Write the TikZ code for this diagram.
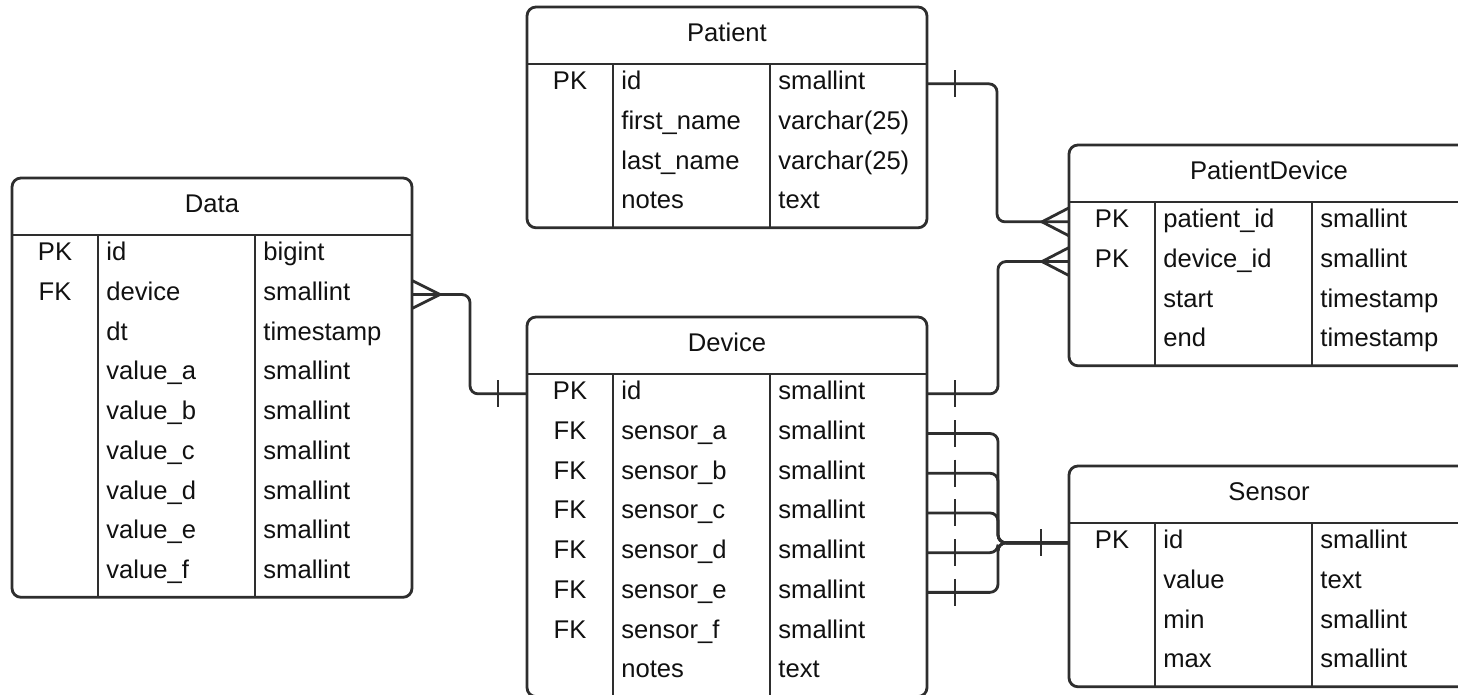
\documentclass[tikz,border=0pt]{standalone}
\usepackage{fontspec}
\setmainfont{Liberation Sans}
\usepackage{tikz}
\usetikzlibrary{calc,positioning}
\definecolor{erline}{HTML}{2E2E2E}
\definecolor{ertext}{HTML}{111111}
\tikzset{
  entity/.style={
    draw=erline,
    line width=1.4pt,
    rounded corners=4.5pt,
    fill=white,
    minimum width=200pt,
    anchor=north west,
    inner sep=0pt,
    outer sep=0pt
  },
  tableline/.style={
    draw=erline,
    line width=1.4pt
  },
  entitytitle/.style={
    anchor=base,
    inner sep=0pt,
    text=ertext,
    font=\fontsize{12.8}{15}\selectfont
  },
  keytext/.style={
    anchor=base,
    inner sep=0pt,
    text=ertext,
    font=\fontsize{12.8}{15}\selectfont
  },
  fieldtext/.style={
    anchor=base west,
    inner sep=0pt,
    text=ertext,
    font=\fontsize{12.8}{15}\selectfont
  },
  relline/.style={
    draw=erline,
    line width=1.4pt,
    rounded corners=4pt
  },
  relmark/.style={
    draw=erline,
    line width=1.4pt
  }
}
\newcommand{\ertable}[5]{%
  \node[entity, minimum height={(62+#4*39.7)*0.5pt}] (#1) at (#2) {};
  \node[entitytitle] (#1-title) at ($(#1.north)+(0,34.5)$) {#3};
  \coordinate (#1-head) at ($(#1.north west)+(0,57)$);
  \draw[tableline] (#1-head) -- ($(#1.north east)+(0,57)$);
  \draw[tableline] ($(#1-head)+(86,0)$) -- ($(#1.south west)+(86,0)$);
  \draw[tableline] ($(#1-head)+(243,0)$) -- ($(#1.south west)+(243,0)$);
  \foreach \key/\fld/\typ [count=\n] in {#5} {
    \coordinate (#1-w\n) at ($(#1-head)+(0,{(\n-0.5)*39.7})$);
    \coordinate (#1-e\n) at ($(#1-w\n)+(400,0)$);
    \node[keytext] (#1-k\n) at ($(#1-w\n)+(43,6)$) {\key};
    \node[fieldtext] (#1-f\n) at ($(#1-w\n)+(94,6)$) {\fld};
    \node[fieldtext] (#1-t\n) at ($(#1-w\n)+(251,6)$) {\typ};
  }%
}
\newcommand{\onemark}[2]{\draw[relmark] ($(#1)+(#2,-13.5)$) -- ($(#1)+(#2,13.5)$);}
\newcommand{\manymark}[2]{\draw[relmark] ($(#1)+(0,-14)$) -- ($(#1)+(#2,0)$) -- ($(#1)+(0,14)$);}

\begin{document}
\begin{tikzpicture}[x=0.5pt, y=-0.5pt]
    \path[use as bounding box, fill=white] (0,0) rectangle (1458,695);
    \ertable{data}{12,178}{Data}{9}{PK/id/bigint, FK/device/smallint, {}/dt/timestamp,
      {}/value\_a/smallint, {}/value\_b/smallint, {}/value\_c/smallint,
      {}/value\_d/smallint, {}/value\_e/smallint, {}/value\_f/smallint}
    \ertable{patient}{527,7}{Patient}{4}{PK/id/smallint, {}/first\_name/varchar(25),
      {}/last\_name/varchar(25), {}/notes/text}
    \ertable{device}{527,317}{Device}{8}{PK/id/smallint, FK/sensor\_a/smallint,
      FK/sensor\_b/smallint, FK/sensor\_c/smallint, FK/sensor\_d/smallint,
      FK/sensor\_e/smallint, FK/sensor\_f/smallint, {}/notes/text}
    \ertable{pdev}{1069,145}{PatientDevice}{4}{PK/patient\_id/smallint, PK/device\_id/smallint,
      {}/start/timestamp, {}/end/timestamp}
    \ertable{sensor}{1069,466}{Sensor}{4}{PK/id/smallint, {}/value/text, {}/min/smallint,
      {}/max/smallint}
    \draw[relline] (data-e2) -- ++(58,0) |- (device-w1);
    \draw[relline] (patient-e1) -- ++(70,0) |- (pdev-w1);
    \draw[relline] (device-e1) -- ++(71,0) |- (pdev-w2);
    \foreach \r in {2,...,6}
      \draw[relline] (device-e\r) -- ++(71,0) |- (sensor-w1);
    \foreach \ename/\eoff in {device-w1/-29, patient-e1/28, device-e1/28, device-e2/28,
      device-e3/28, device-e4/28, device-e5/28, device-e6/28, sensor-w1/-28}
      \onemark{\ename}{\eoff};
    \foreach \ename/\eoff in {data-e2/28, pdev-w1/-27, pdev-w2/-27}
      \manymark{\ename}{\eoff};
\end{tikzpicture}
\end{document}
